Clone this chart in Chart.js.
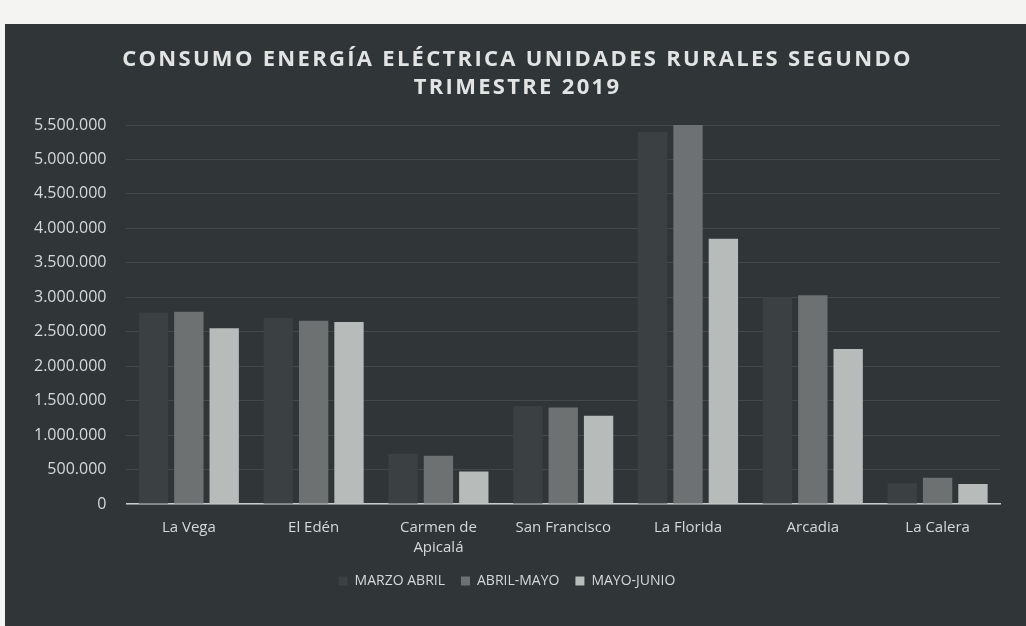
<!DOCTYPE html>
<html>
<head>
<meta charset="utf-8">
<script src="https://cdn.jsdelivr.net/npm/chart.js@4"></script>
<style>
  html, body { margin: 0; padding: 0; background: #f4f4f2; }
  #wrap {
    position: absolute; left: 5px; top: 24px; width: 1021px; height: 602px;
    background: #303537;
  }
</style>
</head>
<body>
<div id="wrap"><canvas id="chart"></canvas></div>
<script>
// datos del gráfico
const categorias = ['La Vega', 'El Edén', ['Carmen de', 'Apicalá'], 'San Francisco', 'La Florida', 'Arcadia', 'La Calera'];
const marzoAbril = [2780000, 2700000, 730000, 1420000, 5400000, 3000000, 300000];
const abrilMayo = [2790000, 2660000, 700000, 1400000, 5550000, 3030000, 380000];
const mayoJunio = [2550000, 2640000, 470000, 1280000, 3850000, 2250000, 290000];
const yTicks = [0, 500000, 1000000, 1500000, 2000000, 2500000, 3000000, 3500000, 4000000, 4500000, 5000000, 5500000];
const titulo = ['CONSUMO ENERGÍA ELÉCTRICA UNIDADES RURALES SEGUNDO', 'TRIMESTRE 2019'];

const textColor = '#d6d9da';
const fmt = v => v === 0 ? '0' : v.toString().replace(/\B(?=(\d{3})+(?!\d))/g, '.');

// título con espaciado entre letras (el plugin de título no lo soporta)
const tituloEspaciado = {
    id: 'tituloEspaciado',
    afterDraw(chart) {
        const ctx = chart.ctx;
        ctx.save();
        ctx.font = 'bold 22px "Open Sans"';
        ctx.fillStyle = '#e2e4e4';
        ctx.textAlign = 'center';
        ctx.textBaseline = 'middle';
        ctx.letterSpacing = '2.3px';
        const cx = chart.width / 2 + 2;
        titulo.forEach((line, i) => ctx.fillText(line, cx, 36 + i * 28));
        ctx.restore();
    }
};

new Chart(document.getElementById('chart'), {
    type: 'bar',
    data: {
        labels: categorias,
        datasets: [
            { label: 'MARZO ABRIL', data: marzoAbril, backgroundColor: '#3b4042' },
            { label: 'ABRIL-MAYO', data: abrilMayo, backgroundColor: '#6d7172' },
            { label: 'MAYO-JUNIO', data: mayoJunio, backgroundColor: '#b7bbba' }
        ]
    },
    options: {
        responsive: true,
        maintainAspectRatio: false,
        animation: false,
        datasets: { bar: { categoryPercentage: 0.85, barPercentage: 0.83 } },
        layout: { padding: { left: 9, right: 26, top: 101, bottom: 28 } },
        scales: {
            x: {
                grid: { display: false },
                border: { color: '#c9cccc', width: 1.5 },
                afterFit: axis => { axis.height = 54; },
                ticks: { color: textColor, padding: 6, font: { family: 'Open Sans', size: 15, lineHeight: 1.3 }, maxRotation: 0, autoSkip: false }
            },
            y: {
                min: 0,
                max: 5500000,
                afterBuildTicks: axis => { axis.ticks = yTicks.map(v => ({ value: v })); },
                grid: { color: 'rgba(200,205,205,0.13)', drawTicks: false },
                border: { display: false },
                ticks: { color: textColor, padding: 20, font: { family: 'Open Sans', size: 16 }, callback: v => fmt(v) }
            }
        },
        plugins: {
            legend: {
                position: 'bottom',
                labels: { color: textColor, boxWidth: 9, boxHeight: 9, padding: 16, font: { family: 'Open Sans', size: 14 } }
            },
            tooltip: { enabled: false }
        }
    },
    plugins: [tituloEspaciado]
});
</script>
</body>
</html>
